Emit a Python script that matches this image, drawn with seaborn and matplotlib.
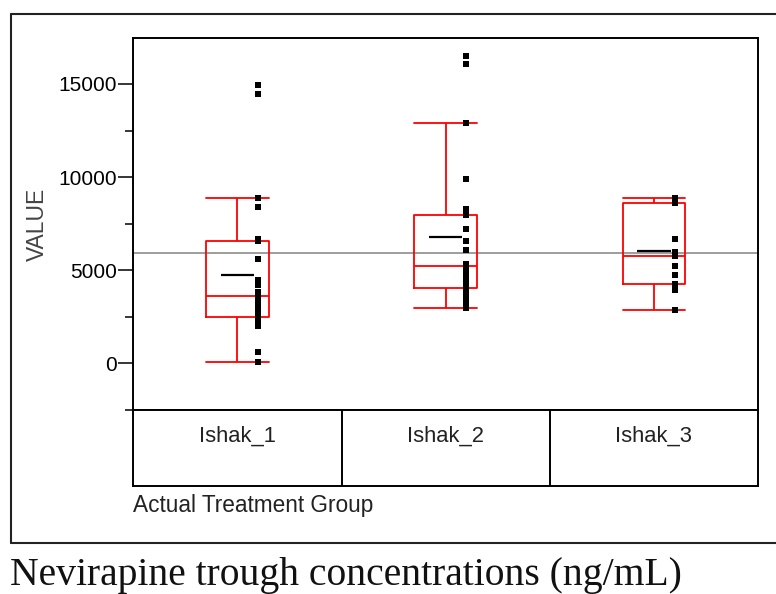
import numpy as np
import pandas as pd
import matplotlib
matplotlib.use("Agg")
import matplotlib.pyplot as plt
import matplotlib.transforms as mtransforms
from matplotlib.lines import Line2D
from matplotlib.ticker import FixedLocator
import seaborn as sns

# ---------------- data ----------------
categories = ["Ishak_1", "Ishak_2", "Ishak_3"]
ishak_1_values = [86, 622, 1999, 2150, 2300, 2400, 2498, 2680, 2800, 2948, 3248, 3450,
                  3607, 3700, 3838, 4200, 4502, 5628, 6571, 6650, 6700, 8394, 8880,
                  14472, 14954]
ishak_2_values = [2950, 3300, 3484, 3650, 3800, 4074, 4288, 4556, 4800, 5092, 5215,
                  5360, 6110, 6571, 7200, 7949, 8308, 9880, 12900, 16080, 16525]
ishak_3_values = [2850, 3966, 4100, 4288, 4770, 5215, 5768, 5982, 6700, 8608, 8700,
                  8800, 8876]
reference_value = 5900
y_major_ticks = [0, 5000, 10000, 15000]
y_minor_ticks = [-2500, 2500, 7500, 12500]
y_label = "VALUE"
x_label = "Actual Treatment Group"
caption = "Nevirapine trough concentrations (ng/mL)"

df = pd.DataFrame({
    "group": (["Ishak_1"] * len(ishak_1_values) + ["Ishak_2"] * len(ishak_2_values)
              + ["Ishak_3"] * len(ishak_3_values)),
    "value": ishak_1_values + ishak_2_values + ishak_3_values,
})

# ---------------- figure ----------------
sns.set_style("white")
plt.rcParams["font.family"] = ["Liberation Sans", "DejaVu Sans"]

W, H = 776, 594
fig = plt.figure(figsize=(W / 100, H / 100), dpi=100)

def px_rect(x0, y0, x1, y1):
    return [x0 / W, 1 - y1 / H, (x1 - x0) / W, (y1 - y0) / H]

ax = fig.add_axes(px_rect(133.3, 38.3, 758, 410))

sns.boxplot(data=df, x="group", y="value", order=categories, fill=False,
            color="#ff0000", width=0.3, whis=1.5, showfliers=False,
            showmeans=True, meanline=True,
            meanprops=dict(color="black", linestyle="-", linewidth=1.6),
            linewidth=1.3, capwidths=0.3, ax=ax)

# shorten the mean lines
for ln in ax.lines:
    if matplotlib.colors.to_hex(ln.get_color()) == "#000000":
        xd = np.asarray(ln.get_xdata(), dtype=float)
        c = xd.mean()
        ln.set_xdata([c - 0.08, c + 0.08])

n_before = len(ax.collections)
sns.stripplot(data=df, x="group", y="value", order=categories, jitter=False,
              color="black", marker="s", size=4.2, linewidth=0, ax=ax, zorder=4)
shift = mtransforms.Affine2D().translate(0.1, 0) + ax.transData
for coll in ax.collections[n_before:]:
    coll.set_offset_transform(shift)

ax.axhline(reference_value, color="#8c8c8c", linewidth=1.2, zorder=1)

ax.set_xlim(-0.5, 2.5)
ax.set_ylim(-2500, 17450)
ax.yaxis.set_major_locator(FixedLocator(y_major_ticks))
ax.yaxis.set_minor_locator(FixedLocator(y_minor_ticks))
ax.set_yticklabels([str(t) for t in y_major_ticks])
ax.tick_params(axis="y", which="major", direction="out", length=10.5, width=1.1,
               pad=1.5, labelsize=15, left=True, colors="black")
ax.tick_params(axis="y", which="minor", direction="out", length=6, width=1.1,
               left=True, colors="black")
ax.tick_params(axis="x", bottom=False, labelbottom=False)
ax.set_xlabel("")
ax.set_ylabel("")
for s in ax.spines.values():
    s.set_visible(True)
    s.set_color("black")
    s.set_linewidth(1.4)

# ---------------- category table ----------------
ax2 = fig.add_axes(px_rect(133.3, 410, 758, 486))
ax2.set_xlim(-0.5, 2.5)
ax2.set_ylim(0, 1)
ax2.set_xticks([])
ax2.set_yticks([])
for s in ax2.spines.values():
    s.set_visible(True)
    s.set_color("black")
    s.set_linewidth(1.4)
for i in range(len(categories) - 1):
    ax2.axvline(i + 0.5, color="black", linewidth=1.4)
for i, cat in enumerate(categories):
    ax2.text(i, 1 - 31.7 / 76, cat, ha="center", va="baseline", fontsize=15.8,
             color="#222222")

fig.text(133 / W, 1 - 511.7 / H, x_label, ha="left", va="baseline", fontsize=16.3,
         color="#222222")
fig.text(37 / W, 1 - 224 / H, y_label, ha="center", va="center", rotation=90,
         fontsize=16.5, color="#444444")

# outer frame
lw = 1.5
fig.add_artist(Line2D([11 / W, 11 / W], [1 - 14 / H, 1 - 543 / H], color="#222222",
                      linewidth=lw, transform=fig.transFigure))
fig.add_artist(Line2D([11 / W, 1.01], [1 - 14 / H, 1 - 14 / H], color="#222222",
                      linewidth=lw, transform=fig.transFigure))
fig.add_artist(Line2D([11 / W, 1.01], [1 - 543 / H, 1 - 543 / H], color="#222222",
                      linewidth=lw, transform=fig.transFigure))

fig.text(10 / W, 1 - 585 / H, caption, ha="left", va="baseline", fontsize=28.5,
         family=["Liberation Serif", "DejaVu Serif"], color="#111111")

fig.savefig("out.png", dpi=100)
